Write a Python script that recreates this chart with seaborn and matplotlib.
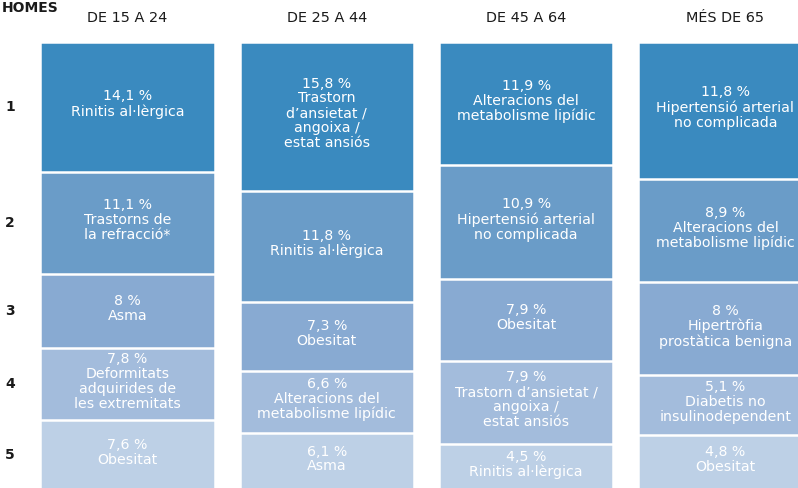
import numpy as np
import pandas as pd
import matplotlib
matplotlib.use("Agg")
import matplotlib.pyplot as plt
import seaborn as sns

# dades
groups = ["DE 15 A 24", "DE 25 A 44", "DE 45 A 64", "MÉS DE 65"]
ranks = [1, 2, 3, 4, 5]
values_15_24 = [14.1, 11.1, 8.0, 7.8, 7.6]
values_25_44 = [15.8, 11.8, 7.3, 6.6, 6.1]
values_45_64 = [11.9, 10.9, 7.9, 7.9, 4.5]
values_65 = [11.8, 8.9, 8.0, 5.1, 4.8]
labels_15_24 = ["Rinitis al·lèrgica", "Trastorns de\nla refracció*", "Asma",
                "Deformitats\nadquirides de\nles extremitats", "Obesitat"]
labels_25_44 = ["Trastorn\nd’ansietat /\nangoixa /\nestat ansiós", "Rinitis al·lèrgica",
                "Obesitat", "Alteracions del\nmetabolisme lipídic", "Asma"]
labels_45_64 = ["Alteracions del\nmetabolisme lipídic", "Hipertensió arterial\nno complicada",
                "Obesitat", "Trastorn d’ansietat /\nangoixa /\nestat ansiós", "Rinitis al·lèrgica"]
labels_65 = ["Hipertensió arterial\nno complicada", "Alteracions del\nmetabolisme lipídic",
             "Hipertròfia\nprostàtica benigna", "Diabetis no\ninsulinodependent", "Obesitat"]
title = "HOMES"

colors = ["#3A8ABF", "#6A9CC8", "#88AAD2", "#A3BCDC", "#BDD0E6"]

values = [values_15_24, values_25_44, values_45_64, values_65]
labels = [labels_15_24, labels_25_44, labels_45_64, labels_65]

rows = []
for g, vals, labs in zip(groups, values, labels):
    tot = sum(vals)
    cum = 0
    for r, v, l in zip(ranks, vals, labs):
        start = cum / tot
        cum += v
        rows.append(dict(group=g, rank=r, value=v, label=l, start=start, end=cum / tot))
df = pd.DataFrame(rows)

sns.set_style("white")
plt.rcParams['font.family'] = ['DejaVu Sans']

fig = plt.figure(figsize=(7.98, 4.88), dpi=100)
ax = fig.add_axes([27.8 / 798, -2.5 / 488, 797.3 / 798, 449 / 488])

# barres apilades: de la més llarga (rang 5) a la més curta (rang 1)
for r in ranks[::-1]:
    sub = df[df["rank"] == r]
    sns.barplot(data=sub, x="group", y="end", order=groups, color=colors[r - 1],
                saturation=1, errorbar=None, width=0.875, edgecolor="white",
                linewidth=1.8, ax=ax)

ax.set_xlim(-0.5, 3.5)
ax.set_ylim(1, 0)
ax.set_axis_off()

def fmt(v):
    s = f"{v:.1f}".replace(".", ",")
    if s.endswith(",0"):
        s = s[:-2]
    return s + " %"

for i, g in enumerate(groups):
    sub = df[df["group"] == g]
    for _, row in sub.iterrows():
        ax.text(i, (row["start"] + row["end"]) / 2 - 0.006, fmt(row["value"]) + "\n" + row["label"],
                ha="center", va="center", color="white", fontsize=10.2,
                linespacing=1.08, multialignment="center")
    ax.text(i, -0.052, g, ha="center", va="center", color="#1a1a1a", fontsize=10.4,
            clip_on=False)

# números de rang alineats amb la primera columna
first = df[df["group"] == groups[0]]
for _, row in first.iterrows():
    ax.text(-0.589, (row["start"] + row["end"]) / 2, str(row["rank"]), ha="center",
            va="center", color="#1a1a1a", fontsize=10, fontweight="bold", clip_on=False)

fig.text(0.002, 1 - 1 / 488, title, ha="left", va="top", fontsize=10,
         fontweight="bold", color="#1a1a1a")

fig.savefig("out.png", dpi=100)
